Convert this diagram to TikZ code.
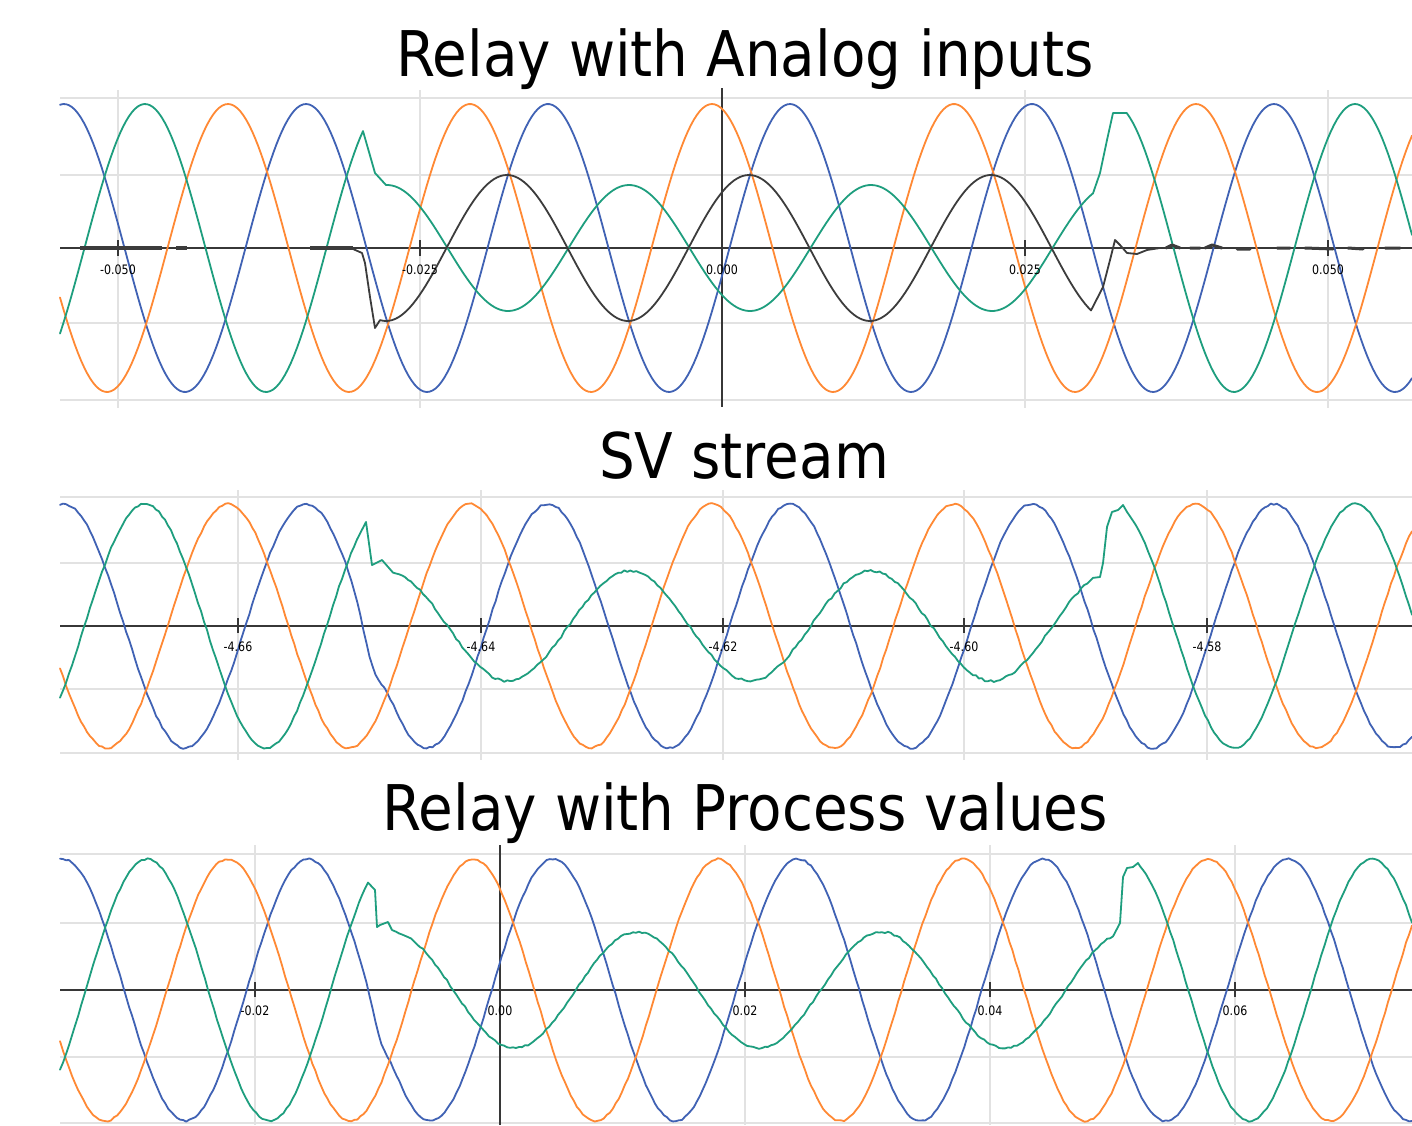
\documentclass[tikz,border=0pt]{standalone}
\usepackage{fontspec}
\setmainfont{DejaVu Sans}
\definecolor{blueW}{RGB}{64,98,180}
\definecolor{greenW}{RGB}{30,158,126}
\definecolor{orangeW}{RGB}{255,137,52}
\definecolor{blackW}{RGB}{60,60,60}
\definecolor{gridc}{RGB}{226,226,226}
\definecolor{axisc}{RGB}{55,55,55}
\tikzset{
  gridline/.style={draw=gridc, line width=1.2pt},
  axisline/.style={draw=axisc, line width=1pt},
  tickmark/.style={draw=axisc, line width=0.8pt},
  wave/.style={line width=0.9pt, line join=round, line cap=round},
  ticklabel/.style={font=\fontsize{6.5}{6.5}\selectfont, inner sep=0pt, text=black},
  titletext/.style={font=\fontsize{31.5}{31.5}\selectfont, anchor=base, inner sep=0pt},
}
\begin{document}
\begin{tikzpicture}[x=0.5pt,y=-0.5pt,
  declare function={w(\xx,\cc,\pp,\TT,\amp)=\cc-\amp*cos(((\xx-\pp)/\TT)*360);}]
\pgfmathsetseed{7}
\useasboundingbox[fill=white] (0,0) rectangle (1412,1125);

% ---------------- titles
\node[titletext] (t1) at (745,76) {\scalebox{0.895}[1]{Relay with Analog inputs}};
\node[titletext] (t2) at (744,478) {\scalebox{0.895}[1]{SV stream}};
\node[titletext] (t3) at (745,830) {\scalebox{0.895}[1]{Relay with Process values}};

% ================= PANEL 1 =================
\foreach \yy in {98,175,323,400} \draw[gridline] (60,\yy) -- (1412,\yy);
\foreach \xx in {118,420,1025,1328} \draw[gridline] (\xx,90) -- (\xx,408);
\draw[axisline] (60,248) -- (1412,248);
\draw[axisline] (722,88) -- (722,407);
\foreach \xx in {118,420,722,1025,1328} \draw[tickmark] (\xx,240) -- (\xx,256);

\draw[wave,blueW] plot[domain=60:1412,samples=451] (\x,{w(\x,248,790,242,144)});
\draw[wave,orangeW] plot[domain=60:1412,samples=451] (\x,{w(\x,248,228,242,144)});
\draw[wave,greenW] plot[domain=60:363,samples=102] (\x,{w(\x,248,145,242,144)})
  -- (375,173) -- plot[domain=386:1093,samples=237] (\x,{w(\x,248,145,242,63)})
  -- (1100,173) -- (1107,140) -- (1113,113) -- (1127,113)
  -- plot[domain=1127:1412,samples=96] (\x,{w(\x,248,145,242,144)});
\draw[blackW, line width=2pt] (80,248) -- (162,248) (176,248) -- (187,248) (310,248) -- (353,248);
\draw[wave,blackW] (353,249) -- (362,253) -- (365,263) -- (370,297) -- (375,328)
  -- plot[domain=380:1091,samples=238] (\x,{w(\x,248,507,242,73)})
  -- (1103,287) -- (1110,260) -- (1115,240) -- (1120,245) -- (1127,253) -- (1137,254) -- (1147,250) -- (1160,248);
\draw[wave,blackW,line width=1.5pt] (1166,248) -- (1172,245) -- (1180,248) (1190,248) -- (1200,248)
  (1205,248) -- (1212,245) -- (1222,248) (1237,249) -- (1250,249) (1277,248) -- (1290,248)
  (1305,248) -- (1333,249) (1348,248) -- (1363,249) (1385,248) -- (1400,248);

\node[ticklabel] (l1a) at (118,270) {\scalebox{0.85}[1]{-0.050}};
\node[ticklabel] (l1b) at (420,270) {\scalebox{0.85}[1]{-0.025}};
\node[ticklabel] (l1c) at (722,270) {\scalebox{0.85}[1]{0.000}};
\node[ticklabel] (l1d) at (1025,270) {\scalebox{0.85}[1]{0.025}};
\node[ticklabel] (l1e) at (1328,270) {\scalebox{0.85}[1]{0.050}};

% ================= PANEL 2 =================
\foreach \yy in {497,563,689,753} \draw[gridline] (60,\yy) -- (1412,\yy);
\foreach \xx in {238,481,723,964,1207} \draw[gridline] (\xx,490) -- (\xx,760);
\draw[axisline] (60,626) -- (1412,626);
\foreach \xx in {238,481,723,964,1207} \draw[tickmark] (\xx,618) -- (\xx,633);

\draw[wave,blueW] plot[domain=60:1412,samples=451]
  (\x,{w(\x,626,790,242,122)+22*exp(max(-9,0-pow((\x-372)/12,2)))+0.9*rand});
\draw[wave,orangeW] plot[domain=60:1412,samples=451] (\x,{w(\x,626,228,242,122)+0.9*rand});
\draw[wave,greenW] plot[domain=60:366,samples=103] (\x,{w(\x,626,145,242,122)+0.9*rand})
  -- (372,565) -- (382,560)
  -- plot[domain=393:1093,samples=234] (\x,{w(\x,626,145,242,55)+1.2*rand})
  -- (1100,577) -- (1103,563) -- (1107,527) -- (1112,512) -- (1118,510) -- (1123,505)
  -- plot[domain=1127:1412,samples=96] (\x,{w(\x,626,145,242,122)+0.9*rand});

\node[ticklabel] (l2a) at (238,647) {\scalebox{0.85}[1]{-4.66}};
\node[ticklabel] (l2b) at (481,647) {\scalebox{0.85}[1]{-4.64}};
\node[ticklabel] (l2c) at (723,647) {\scalebox{0.85}[1]{-4.62}};
\node[ticklabel] (l2d) at (964,647) {\scalebox{0.85}[1]{-4.60}};
\node[ticklabel] (l2e) at (1207,647) {\scalebox{0.85}[1]{-4.58}};

% ================= PANEL 3 =================
\foreach \yy in {854,923,1057,1123} \draw[gridline] (60,\yy) -- (1412,\yy);
\foreach \xx in {255,745,990,1235} \draw[gridline] (\xx,845) -- (\xx,1125);
\draw[axisline] (60,990) -- (1412,990);
\draw[axisline] (500,845) -- (500,1125);
\foreach \xx in {255,500,745,990,1235} \draw[tickmark] (\xx,982) -- (\xx,997);

\draw[wave,blueW] plot[domain=60:1412,samples=451]
  (\x,{w(\x,990,308,245,131)+14*exp(max(-9,0-pow((\x-380)/10,2)))+0.8*rand});
\draw[wave,orangeW] plot[domain=60:1412,samples=451] (\x,{w(\x,990,228,245,131)+0.8*rand});
\draw[wave,greenW] plot[domain=60:368,samples=103] (\x,{w(\x,990,147,245,131)+0.8*rand})
  -- (375,890) -- (377,927) -- (380,925) -- (388,922) -- (392,930)
  -- plot[domain=396:1113,samples=240] (\x,{w(\x,990,147,245,58)+0.9*rand})
  -- (1120,923) -- (1123,877) -- (1127,868) -- (1133,867) -- (1138,863)
  -- plot[domain=1140:1412,samples=91] (\x,{w(\x,990,147,245,131)+0.8*rand});

\node[ticklabel] (l3a) at (255,1011) {\scalebox{0.85}[1]{-0.02}};
\node[ticklabel] (l3b) at (500,1011) {\scalebox{0.85}[1]{0.00}};
\node[ticklabel] (l3c) at (745,1011) {\scalebox{0.85}[1]{0.02}};
\node[ticklabel] (l3d) at (990,1011) {\scalebox{0.85}[1]{0.04}};
\node[ticklabel] (l3e) at (1235,1011) {\scalebox{0.85}[1]{0.06}};
\end{tikzpicture}
\end{document}
